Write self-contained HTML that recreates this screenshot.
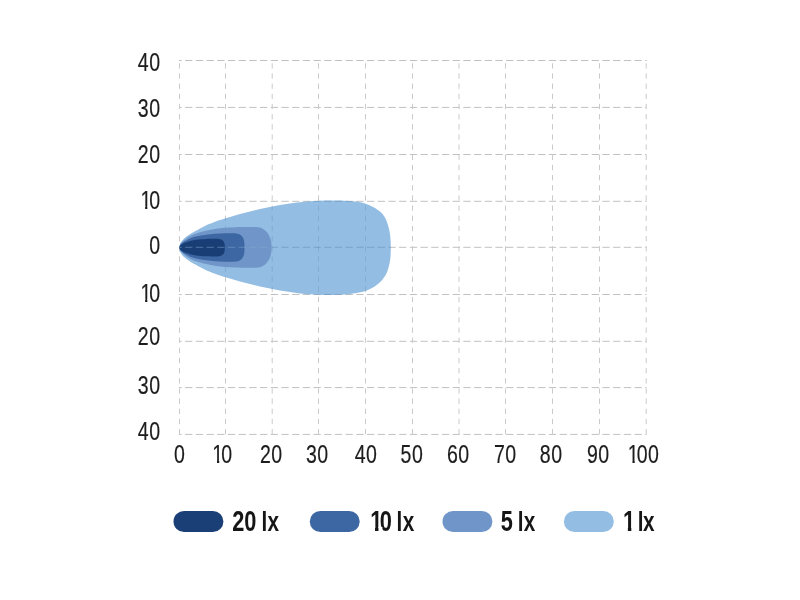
<!DOCTYPE html>
<html lang="en">
<head>
<meta charset="utf-8">
<title>Light distribution chart</title>
<style>
html,body{margin:0;padding:0;background:#fff;}
body{width:800px;height:600px;overflow:hidden;}
svg{display:block;}
text{white-space:pre;}
.t{font-family:"Liberation Sans",sans-serif;font-size:25.2px;fill:#1d1d1d;stroke:#1d1d1d;stroke-width:0.2;}
.b{font-family:"Liberation Sans",sans-serif;font-size:27.6px;font-weight:bold;fill:#161616;}
.h{stroke:#c1c1c1;stroke-width:1;stroke-dasharray:7.3 3.4;stroke-dashoffset:4.6;}
.v{stroke:#cacaca;stroke-width:1;stroke-dasharray:5.3 4.86;stroke-dashoffset:7.41;}
#over .h{stroke:#587898;opacity:0.38;}
#over .v{stroke:#587898;opacity:0.25;}
#zero .h{stroke:#86a8d0;opacity:0.5;}
</style>
</head>
<body>
<svg width="800" height="600" viewBox="0 0 800 600">
<rect width="800" height="600" fill="#ffffff"/>
<g id="grid" fill="none">
<line x1="179.00" y1="60.50" x2="646.60" y2="60.50" class="h"/>
<line x1="179.00" y1="107.40" x2="646.60" y2="107.40" class="h"/>
<line x1="179.00" y1="154.50" x2="646.60" y2="154.50" class="h"/>
<line x1="179.00" y1="201.30" x2="646.60" y2="201.30" class="h"/>
<line x1="179.00" y1="247.30" x2="646.60" y2="247.30" class="h"/>
<line x1="179.00" y1="294.50" x2="646.60" y2="294.50" class="h"/>
<line x1="179.00" y1="341.30" x2="646.60" y2="341.30" class="h"/>
<line x1="179.00" y1="387.60" x2="646.60" y2="387.60" class="h"/>
<line x1="179.00" y1="434.40" x2="646.60" y2="434.40" class="h"/>
<line x1="179.50" y1="60.50" x2="179.50" y2="434.40" class="v"/>
<line x1="225.50" y1="60.50" x2="225.50" y2="434.40" class="v"/>
<line x1="272.20" y1="60.50" x2="272.20" y2="434.40" class="v"/>
<line x1="318.50" y1="60.50" x2="318.50" y2="434.40" class="v"/>
<line x1="365.50" y1="60.50" x2="365.50" y2="434.40" class="v"/>
<line x1="412.50" y1="60.50" x2="412.50" y2="434.40" class="v"/>
<line x1="459.00" y1="60.50" x2="459.00" y2="434.40" class="v"/>
<line x1="505.50" y1="60.50" x2="505.50" y2="434.40" class="v"/>
<line x1="552.50" y1="60.50" x2="552.50" y2="434.40" class="v"/>
<line x1="599.50" y1="60.50" x2="599.50" y2="434.40" class="v"/>
<line x1="646.20" y1="60.50" x2="646.20" y2="434.40" class="v"/>
</g>
<g id="beam">
<path d="M179.20,247.80 C179.28,247.32 179.48,245.68 179.70,244.90 C179.92,244.12 180.20,243.67 180.50,243.10 C180.80,242.53 181.08,242.07 181.50,241.50 C181.92,240.93 182.42,240.32 183.00,239.70 C183.58,239.08 184.25,238.45 185.00,237.80 C185.75,237.15 186.67,236.40 187.50,235.80 C188.33,235.20 188.75,234.95 190.00,234.20 C191.25,233.45 193.33,232.25 195.00,231.30 C196.67,230.35 198.33,229.40 200.00,228.50 C201.67,227.60 202.50,227.02 205.00,225.90 C207.50,224.78 212.50,222.77 215.00,221.80 C217.50,220.83 217.50,220.90 220.00,220.10 C222.50,219.30 226.67,218.00 230.00,217.00 C233.33,216.00 236.67,215.02 240.00,214.10 C243.33,213.18 246.67,212.33 250.00,211.50 C253.33,210.67 256.67,209.85 260.00,209.10 C263.33,208.35 266.67,207.67 270.00,207.00 C273.33,206.33 276.67,205.68 280.00,205.10 C283.33,204.52 286.67,203.98 290.00,203.50 C293.33,203.02 296.67,202.57 300.00,202.20 C303.33,201.83 306.67,201.53 310.00,201.30 C313.33,201.07 316.67,200.93 320.00,200.80 C323.33,200.68 326.67,200.58 330.00,200.55 C333.33,200.52 336.67,200.51 340.00,200.60 C343.33,200.69 346.67,200.82 350.00,201.10 C353.33,201.38 357.38,201.87 360.00,202.30 C362.62,202.73 364.03,203.18 365.70,203.70 C367.37,204.22 368.45,204.70 370.00,205.40 C371.55,206.10 373.33,206.90 375.00,207.90 C376.67,208.90 378.50,210.07 380.00,211.40 C381.50,212.73 382.83,214.15 384.00,215.90 C385.17,217.65 386.17,219.73 387.00,221.90 C387.83,224.07 388.45,226.40 389.00,228.90 C389.55,231.40 390.00,233.75 390.30,236.90 C390.60,240.05 390.80,244.17 390.80,247.80 C390.80,251.43 390.60,255.70 390.30,258.70 C390.00,261.70 389.55,263.55 389.00,265.80 C388.45,268.05 387.83,270.23 387.00,272.20 C386.17,274.17 385.17,275.93 384.00,277.60 C382.83,279.27 381.50,280.77 380.00,282.20 C378.50,283.63 376.67,285.05 375.00,286.20 C373.33,287.35 371.55,288.32 370.00,289.10 C368.45,289.88 367.37,290.37 365.70,290.90 C364.03,291.43 362.62,291.78 360.00,292.30 C357.38,292.82 353.33,293.58 350.00,294.00 C346.67,294.42 343.33,294.62 340.00,294.80 C336.67,294.98 333.33,295.05 330.00,295.05 C326.67,295.05 323.33,294.93 320.00,294.80 C316.67,294.68 313.33,294.53 310.00,294.30 C306.67,294.07 303.33,293.77 300.00,293.40 C296.67,293.03 293.33,292.58 290.00,292.10 C286.67,291.62 283.33,291.08 280.00,290.50 C276.67,289.92 273.33,289.27 270.00,288.60 C266.67,287.93 263.33,287.25 260.00,286.50 C256.67,285.75 253.33,284.93 250.00,284.10 C246.67,283.27 243.33,282.42 240.00,281.50 C236.67,280.58 233.33,279.60 230.00,278.60 C226.67,277.60 222.50,276.30 220.00,275.50 C217.50,274.70 217.50,274.77 215.00,273.80 C212.50,272.83 207.50,270.82 205.00,269.70 C202.50,268.58 201.67,268.00 200.00,267.10 C198.33,266.20 196.67,265.25 195.00,264.30 C193.33,263.35 191.25,262.15 190.00,261.40 C188.75,260.65 188.33,260.40 187.50,259.80 C186.67,259.20 185.75,258.45 185.00,257.80 C184.25,257.15 183.58,256.52 183.00,255.90 C182.42,255.28 181.92,254.67 181.50,254.10 C181.08,253.53 180.80,253.07 180.50,252.50 C180.20,251.93 179.92,251.48 179.70,250.70 C179.48,249.92 179.28,248.28 179.20,247.80 Z" fill="#93bde3"/>
<g id="over" clip-path="url(#cp)" fill="none">
<line x1="179.00" y1="60.50" x2="646.60" y2="60.50" class="h"/>
<line x1="179.00" y1="107.40" x2="646.60" y2="107.40" class="h"/>
<line x1="179.00" y1="154.50" x2="646.60" y2="154.50" class="h"/>
<line x1="179.00" y1="201.30" x2="646.60" y2="201.30" class="h"/>
<line x1="179.00" y1="247.30" x2="646.60" y2="247.30" class="h"/>
<line x1="179.00" y1="294.50" x2="646.60" y2="294.50" class="h"/>
<line x1="179.00" y1="341.30" x2="646.60" y2="341.30" class="h"/>
<line x1="179.00" y1="387.60" x2="646.60" y2="387.60" class="h"/>
<line x1="179.00" y1="434.40" x2="646.60" y2="434.40" class="h"/>
<line x1="179.50" y1="60.50" x2="179.50" y2="434.40" class="v"/>
<line x1="225.50" y1="60.50" x2="225.50" y2="434.40" class="v"/>
<line x1="272.20" y1="60.50" x2="272.20" y2="434.40" class="v"/>
<line x1="318.50" y1="60.50" x2="318.50" y2="434.40" class="v"/>
<line x1="365.50" y1="60.50" x2="365.50" y2="434.40" class="v"/>
<line x1="412.50" y1="60.50" x2="412.50" y2="434.40" class="v"/>
<line x1="459.00" y1="60.50" x2="459.00" y2="434.40" class="v"/>
<line x1="505.50" y1="60.50" x2="505.50" y2="434.40" class="v"/>
<line x1="552.50" y1="60.50" x2="552.50" y2="434.40" class="v"/>
<line x1="599.50" y1="60.50" x2="599.50" y2="434.40" class="v"/>
<line x1="646.20" y1="60.50" x2="646.20" y2="434.40" class="v"/>
</g>
<path d="M179.30,247.40 C179.42,247.00 179.72,245.70 180.00,245.00 C180.28,244.30 180.42,243.95 181.00,243.20 C181.58,242.45 182.67,241.26 183.50,240.50 C184.33,239.74 184.75,239.47 186.00,238.65 C187.25,237.83 189.33,236.46 191.00,235.60 C192.67,234.74 194.33,234.10 196.00,233.50 C197.67,232.90 199.50,232.42 201.00,232.00 C202.50,231.58 202.67,231.50 205.00,231.00 C207.33,230.50 211.67,229.53 215.00,229.00 C218.33,228.47 221.67,228.10 225.00,227.80 C228.33,227.50 231.67,227.33 235.00,227.20 C238.33,227.07 242.17,227.03 245.00,227.00 C247.83,226.97 249.76,226.95 252.00,227.00 C254.24,227.05 256.97,227.13 258.44,227.28 C259.91,227.42 260.05,227.60 260.82,227.87 C261.59,228.15 262.36,228.50 263.08,228.92 C263.81,229.35 264.51,229.85 265.17,230.42 C265.83,230.99 266.46,231.64 267.03,232.35 C267.61,233.06 268.14,233.85 268.62,234.68 C269.10,235.52 269.53,236.42 269.90,237.37 C270.27,238.32 270.59,239.32 270.84,240.37 C271.09,241.42 271.28,242.49 271.41,243.66 C271.54,244.84 271.60,246.15 271.60,247.40 C271.60,248.65 271.54,249.96 271.41,251.14 C271.28,252.31 271.09,253.38 270.84,254.43 C270.59,255.48 270.27,256.48 269.90,257.43 C269.53,258.38 269.10,259.28 268.62,260.12 C268.14,260.95 267.61,261.74 267.03,262.45 C266.46,263.16 265.83,263.81 265.17,264.38 C264.51,264.95 263.81,265.45 263.08,265.88 C262.36,266.30 261.59,266.65 260.82,266.93 C260.05,267.20 259.91,267.38 258.44,267.52 C256.97,267.67 254.24,267.75 252.00,267.80 C249.76,267.85 247.83,267.83 245.00,267.80 C242.17,267.77 238.33,267.73 235.00,267.60 C231.67,267.47 228.33,267.30 225.00,267.00 C221.67,266.70 218.33,266.33 215.00,265.80 C211.67,265.27 207.33,264.30 205.00,263.80 C202.67,263.30 202.50,263.22 201.00,262.80 C199.50,262.38 197.67,261.90 196.00,261.30 C194.33,260.70 192.67,260.06 191.00,259.20 C189.33,258.34 187.25,256.97 186.00,256.15 C184.75,255.33 184.33,255.06 183.50,254.30 C182.67,253.54 181.58,252.35 181.00,251.60 C180.42,250.85 180.28,250.50 180.00,249.80 C179.72,249.10 179.42,247.80 179.30,247.40 Z" fill="#7096c9"/>
<path d="M179.30,247.50 C179.42,247.17 179.72,246.07 180.00,245.50 C180.28,244.93 180.42,244.68 181.00,244.10 C181.58,243.52 182.67,242.60 183.50,242.00 C184.33,241.40 184.75,241.18 186.00,240.50 C187.25,239.82 189.33,238.57 191.00,237.90 C192.67,237.23 194.33,236.90 196.00,236.50 C197.67,236.10 199.33,235.80 201.00,235.50 C202.67,235.20 203.67,235.00 206.00,234.70 C208.33,234.40 211.83,233.93 215.00,233.70 C218.17,233.47 221.84,233.36 225.00,233.30 C228.16,233.24 232.14,233.29 233.96,233.32 C235.77,233.34 235.24,233.37 235.86,233.44 C236.48,233.51 237.09,233.61 237.67,233.76 C238.26,233.91 238.82,234.09 239.35,234.33 C239.87,234.58 240.38,234.87 240.84,235.22 C241.30,235.58 241.73,235.98 242.11,236.46 C242.50,236.93 242.84,237.46 243.14,238.07 C243.43,238.69 243.69,239.34 243.89,240.13 C244.09,240.92 244.24,241.56 244.35,242.79 C244.45,244.02 244.50,245.93 244.50,247.50 C244.50,249.07 244.45,250.98 244.35,252.21 C244.24,253.44 244.09,254.08 243.89,254.87 C243.69,255.66 243.43,256.31 243.14,256.93 C242.84,257.54 242.50,258.07 242.11,258.54 C241.73,259.02 241.30,259.42 240.84,259.78 C240.38,260.13 239.87,260.42 239.35,260.67 C238.82,260.91 238.26,261.09 237.67,261.24 C237.09,261.39 236.48,261.49 235.86,261.56 C235.24,261.63 235.77,261.66 233.96,261.68 C232.14,261.71 228.16,261.76 225.00,261.70 C221.84,261.64 218.17,261.53 215.00,261.30 C211.83,261.07 208.33,260.60 206.00,260.30 C203.67,260.00 202.67,259.80 201.00,259.50 C199.33,259.20 197.67,258.90 196.00,258.50 C194.33,258.10 192.67,257.77 191.00,257.10 C189.33,256.43 187.25,255.18 186.00,254.50 C184.75,253.82 184.33,253.60 183.50,253.00 C182.67,252.40 181.58,251.48 181.00,250.90 C180.42,250.32 180.28,250.07 180.00,249.50 C179.72,248.93 179.42,247.83 179.30,247.50 Z" fill="#3d67a3"/>
<path d="M179.30,247.60 C179.42,247.33 179.72,246.46 180.00,246.00 C180.28,245.54 180.42,245.30 181.00,244.85 C181.58,244.40 182.67,243.72 183.50,243.30 C184.33,242.88 184.75,242.78 186.00,242.35 C187.25,241.92 189.33,241.14 191.00,240.70 C192.67,240.26 194.33,239.95 196.00,239.70 C197.67,239.45 199.33,239.33 201.00,239.20 C202.67,239.07 204.33,238.97 206.00,238.90 C207.67,238.83 209.24,238.78 211.00,238.75 C212.76,238.72 215.36,238.70 216.53,238.71 C217.70,238.72 217.54,238.74 218.03,238.79 C218.51,238.83 218.99,238.89 219.45,238.99 C219.90,239.08 220.35,239.20 220.76,239.35 C221.17,239.50 221.57,239.68 221.93,239.90 C222.29,240.13 222.63,240.38 222.93,240.68 C223.23,240.98 223.50,241.31 223.73,241.69 C223.96,242.08 224.16,242.49 224.32,242.98 C224.48,243.47 224.60,243.88 224.68,244.65 C224.76,245.42 224.80,246.62 224.80,247.60 C224.80,248.58 224.76,249.78 224.68,250.55 C224.60,251.32 224.48,251.73 224.32,252.22 C224.16,252.71 223.96,253.12 223.73,253.51 C223.50,253.89 223.23,254.22 222.93,254.52 C222.63,254.82 222.29,255.07 221.93,255.30 C221.57,255.52 221.17,255.70 220.76,255.85 C220.35,256.00 219.90,256.12 219.45,256.21 C218.99,256.31 218.51,256.37 218.03,256.41 C217.54,256.46 217.70,256.48 216.53,256.49 C215.36,256.50 212.76,256.48 211.00,256.45 C209.24,256.42 207.67,256.38 206.00,256.30 C204.33,256.23 202.67,256.13 201.00,256.00 C199.33,255.87 197.67,255.75 196.00,255.50 C194.33,255.25 192.67,254.94 191.00,254.50 C189.33,254.06 187.25,253.28 186.00,252.85 C184.75,252.42 184.33,252.32 183.50,251.90 C182.67,251.48 181.58,250.80 181.00,250.35 C180.42,249.90 180.28,249.66 180.00,249.20 C179.72,248.74 179.42,247.87 179.30,247.60 Z" fill="#193e75"/>
<g id="zero" clip-path="url(#cp5)" fill="none">
<line x1="179.00" y1="247.30" x2="646.20" y2="247.30" class="h"/>
</g>
</g>
<clipPath id="cp"><path d="M179.20,247.80 C179.28,247.32 179.48,245.68 179.70,244.90 C179.92,244.12 180.20,243.67 180.50,243.10 C180.80,242.53 181.08,242.07 181.50,241.50 C181.92,240.93 182.42,240.32 183.00,239.70 C183.58,239.08 184.25,238.45 185.00,237.80 C185.75,237.15 186.67,236.40 187.50,235.80 C188.33,235.20 188.75,234.95 190.00,234.20 C191.25,233.45 193.33,232.25 195.00,231.30 C196.67,230.35 198.33,229.40 200.00,228.50 C201.67,227.60 202.50,227.02 205.00,225.90 C207.50,224.78 212.50,222.77 215.00,221.80 C217.50,220.83 217.50,220.90 220.00,220.10 C222.50,219.30 226.67,218.00 230.00,217.00 C233.33,216.00 236.67,215.02 240.00,214.10 C243.33,213.18 246.67,212.33 250.00,211.50 C253.33,210.67 256.67,209.85 260.00,209.10 C263.33,208.35 266.67,207.67 270.00,207.00 C273.33,206.33 276.67,205.68 280.00,205.10 C283.33,204.52 286.67,203.98 290.00,203.50 C293.33,203.02 296.67,202.57 300.00,202.20 C303.33,201.83 306.67,201.53 310.00,201.30 C313.33,201.07 316.67,200.93 320.00,200.80 C323.33,200.68 326.67,200.58 330.00,200.55 C333.33,200.52 336.67,200.51 340.00,200.60 C343.33,200.69 346.67,200.82 350.00,201.10 C353.33,201.38 357.38,201.87 360.00,202.30 C362.62,202.73 364.03,203.18 365.70,203.70 C367.37,204.22 368.45,204.70 370.00,205.40 C371.55,206.10 373.33,206.90 375.00,207.90 C376.67,208.90 378.50,210.07 380.00,211.40 C381.50,212.73 382.83,214.15 384.00,215.90 C385.17,217.65 386.17,219.73 387.00,221.90 C387.83,224.07 388.45,226.40 389.00,228.90 C389.55,231.40 390.00,233.75 390.30,236.90 C390.60,240.05 390.80,244.17 390.80,247.80 C390.80,251.43 390.60,255.70 390.30,258.70 C390.00,261.70 389.55,263.55 389.00,265.80 C388.45,268.05 387.83,270.23 387.00,272.20 C386.17,274.17 385.17,275.93 384.00,277.60 C382.83,279.27 381.50,280.77 380.00,282.20 C378.50,283.63 376.67,285.05 375.00,286.20 C373.33,287.35 371.55,288.32 370.00,289.10 C368.45,289.88 367.37,290.37 365.70,290.90 C364.03,291.43 362.62,291.78 360.00,292.30 C357.38,292.82 353.33,293.58 350.00,294.00 C346.67,294.42 343.33,294.62 340.00,294.80 C336.67,294.98 333.33,295.05 330.00,295.05 C326.67,295.05 323.33,294.93 320.00,294.80 C316.67,294.68 313.33,294.53 310.00,294.30 C306.67,294.07 303.33,293.77 300.00,293.40 C296.67,293.03 293.33,292.58 290.00,292.10 C286.67,291.62 283.33,291.08 280.00,290.50 C276.67,289.92 273.33,289.27 270.00,288.60 C266.67,287.93 263.33,287.25 260.00,286.50 C256.67,285.75 253.33,284.93 250.00,284.10 C246.67,283.27 243.33,282.42 240.00,281.50 C236.67,280.58 233.33,279.60 230.00,278.60 C226.67,277.60 222.50,276.30 220.00,275.50 C217.50,274.70 217.50,274.77 215.00,273.80 C212.50,272.83 207.50,270.82 205.00,269.70 C202.50,268.58 201.67,268.00 200.00,267.10 C198.33,266.20 196.67,265.25 195.00,264.30 C193.33,263.35 191.25,262.15 190.00,261.40 C188.75,260.65 188.33,260.40 187.50,259.80 C186.67,259.20 185.75,258.45 185.00,257.80 C184.25,257.15 183.58,256.52 183.00,255.90 C182.42,255.28 181.92,254.67 181.50,254.10 C181.08,253.53 180.80,253.07 180.50,252.50 C180.20,251.93 179.92,251.48 179.70,250.70 C179.48,249.92 179.28,248.28 179.20,247.80 Z"/></clipPath>
<clipPath id="cp5"><path d="M179.30,247.40 C179.42,247.00 179.72,245.70 180.00,245.00 C180.28,244.30 180.42,243.95 181.00,243.20 C181.58,242.45 182.67,241.26 183.50,240.50 C184.33,239.74 184.75,239.47 186.00,238.65 C187.25,237.83 189.33,236.46 191.00,235.60 C192.67,234.74 194.33,234.10 196.00,233.50 C197.67,232.90 199.50,232.42 201.00,232.00 C202.50,231.58 202.67,231.50 205.00,231.00 C207.33,230.50 211.67,229.53 215.00,229.00 C218.33,228.47 221.67,228.10 225.00,227.80 C228.33,227.50 231.67,227.33 235.00,227.20 C238.33,227.07 242.17,227.03 245.00,227.00 C247.83,226.97 249.76,226.95 252.00,227.00 C254.24,227.05 256.97,227.13 258.44,227.28 C259.91,227.42 260.05,227.60 260.82,227.87 C261.59,228.15 262.36,228.50 263.08,228.92 C263.81,229.35 264.51,229.85 265.17,230.42 C265.83,230.99 266.46,231.64 267.03,232.35 C267.61,233.06 268.14,233.85 268.62,234.68 C269.10,235.52 269.53,236.42 269.90,237.37 C270.27,238.32 270.59,239.32 270.84,240.37 C271.09,241.42 271.28,242.49 271.41,243.66 C271.54,244.84 271.60,246.15 271.60,247.40 C271.60,248.65 271.54,249.96 271.41,251.14 C271.28,252.31 271.09,253.38 270.84,254.43 C270.59,255.48 270.27,256.48 269.90,257.43 C269.53,258.38 269.10,259.28 268.62,260.12 C268.14,260.95 267.61,261.74 267.03,262.45 C266.46,263.16 265.83,263.81 265.17,264.38 C264.51,264.95 263.81,265.45 263.08,265.88 C262.36,266.30 261.59,266.65 260.82,266.93 C260.05,267.20 259.91,267.38 258.44,267.52 C256.97,267.67 254.24,267.75 252.00,267.80 C249.76,267.85 247.83,267.83 245.00,267.80 C242.17,267.77 238.33,267.73 235.00,267.60 C231.67,267.47 228.33,267.30 225.00,267.00 C221.67,266.70 218.33,266.33 215.00,265.80 C211.67,265.27 207.33,264.30 205.00,263.80 C202.67,263.30 202.50,263.22 201.00,262.80 C199.50,262.38 197.67,261.90 196.00,261.30 C194.33,260.70 192.67,260.06 191.00,259.20 C189.33,258.34 187.25,256.97 186.00,256.15 C184.75,255.33 184.33,255.06 183.50,254.30 C182.67,253.54 181.58,252.35 181.00,251.60 C180.42,250.85 180.28,250.50 180.00,249.80 C179.72,249.10 179.42,247.80 179.30,247.40 Z"/></clipPath>
<g id="ylabels">
<g transform="matrix(0.7750 0 0 1 0 70.75)"><text class="t" x="177.81 192.46" y="0">40</text></g>
<g transform="matrix(0.7750 0 0 1 0 116.75)"><text class="t" x="177.81 192.46" y="0">30</text></g>
<g transform="matrix(0.7750 0 0 1 0 162.50)"><text class="t" x="177.81 192.46" y="0">20</text></g>
<g transform="matrix(0.7750 0 0 1 0 208.65)"><text class="t" x="181.24 192.46" y="0">10</text><rect x="180.15" y="-2.49" width="7.11" height="3.29" fill="#fff"/><rect x="190.11" y="-2.49" width="4.91" height="3.29" fill="#fff"/></g>
<g transform="matrix(0.7750 0 0 1 0 254.35)"><text class="t" x="192.46" y="0">0</text></g>
<g transform="matrix(0.7750 0 0 1 0 301.50)"><text class="t" x="181.24 192.46" y="0">10</text><rect x="180.15" y="-2.49" width="7.11" height="3.29" fill="#fff"/><rect x="190.11" y="-2.49" width="4.91" height="3.29" fill="#fff"/></g>
<g transform="matrix(0.7750 0 0 1 0 344.50)"><text class="t" x="177.81 192.46" y="0">20</text></g>
<g transform="matrix(0.7750 0 0 1 0 393.75)"><text class="t" x="177.81 192.46" y="0">30</text></g>
<g transform="matrix(0.7750 0 0 1 0 439.65)"><text class="t" x="177.81 192.46" y="0">40</text></g>
</g>
<g id="xlabels">
<g transform="matrix(0.7750 0 0 1 0 463.40)"><text class="t" x="224.50" y="0">0</text></g>
<g transform="matrix(0.7750 0 0 1 0 463.40)"><text class="t" x="274.01 285.34" y="0">10</text><rect x="272.93" y="-2.49" width="7.11" height="3.29" fill="#fff"/><rect x="282.88" y="-2.49" width="4.91" height="3.29" fill="#fff"/></g>
<g transform="matrix(0.7750 0 0 1 0 463.40)"><text class="t" x="335.39 350.03" y="0">20</text></g>
<g transform="matrix(0.7750 0 0 1 0 463.40)"><text class="t" x="394.78 409.43" y="0">30</text></g>
<g transform="matrix(0.7750 0 0 1 0 463.40)"><text class="t" x="457.61 472.26" y="0">40</text></g>
<g transform="matrix(0.7750 0 0 1 0 463.40)"><text class="t" x="516.93 531.57" y="0">50</text></g>
<g transform="matrix(0.7750 0 0 1 0 463.40)"><text class="t" x="576.78 591.42" y="0">60</text></g>
<g transform="matrix(0.7750 0 0 1 0 463.40)"><text class="t" x="637.30 651.94" y="0">70</text></g>
<g transform="matrix(0.7750 0 0 1 0 463.40)"><text class="t" x="696.59 711.24" y="0">80</text></g>
<g transform="matrix(0.7750 0 0 1 0 463.40)"><text class="t" x="757.27 771.91" y="0">90</text></g>
<g transform="matrix(0.7750 0 0 1 0 463.40)"><text class="t" x="810.08 821.47 836.11" y="0">100</text><rect x="808.99" y="-2.49" width="7.11" height="3.29" fill="#fff"/><rect x="818.95" y="-2.49" width="4.91" height="3.29" fill="#fff"/></g>
</g>
<g id="legend">
<rect x="173.50" y="511.0" width="49.9" height="21.1" rx="10.55" fill="#1a3f76"/>
<rect x="309.80" y="511.0" width="49.9" height="21.1" rx="10.55" fill="#3d67a3"/>
<rect x="442.50" y="511.0" width="49.9" height="21.1" rx="10.55" fill="#7096c9"/>
<rect x="563.90" y="511.0" width="49.9" height="21.1" rx="10.55" fill="#93bde3"/>
<g transform="matrix(0.7510 0 0 1 0 530.60)"><text class="b" x="309.24 325.20 341.33 348.13 356.33" y="0"><tspan font-size="29.0">20</tspan> lx</text></g>
<g transform="matrix(0.7510 0 0 1 0 530.60)"><text class="b" x="492.90 505.70 521.82 527.89 536.42" y="0"><tspan font-size="29.0">10</tspan> lx</text><rect x="491.73" y="-3.56" width="7.63" height="4.36" fill="#fff"/><rect x="503.96" y="-3.56" width="5.25" height="4.36" fill="#fff"/></g>
<g transform="matrix(0.7510 0 0 1 0 530.60)"><text class="b" x="666.88 683.00 689.28 697.54" y="0"><tspan font-size="29.0">5</tspan> lx</text></g>
<g transform="matrix(0.7510 0 0 1 0 530.60)"><text class="b" x="829.59 845.71 849.07 856.33" y="0"><tspan font-size="29.0">1</tspan> lx</text><rect x="828.41" y="-3.56" width="7.63" height="4.36" fill="#fff"/><rect x="840.65" y="-3.56" width="5.25" height="4.36" fill="#fff"/></g>
</g>
</svg>
</body>
</html>
